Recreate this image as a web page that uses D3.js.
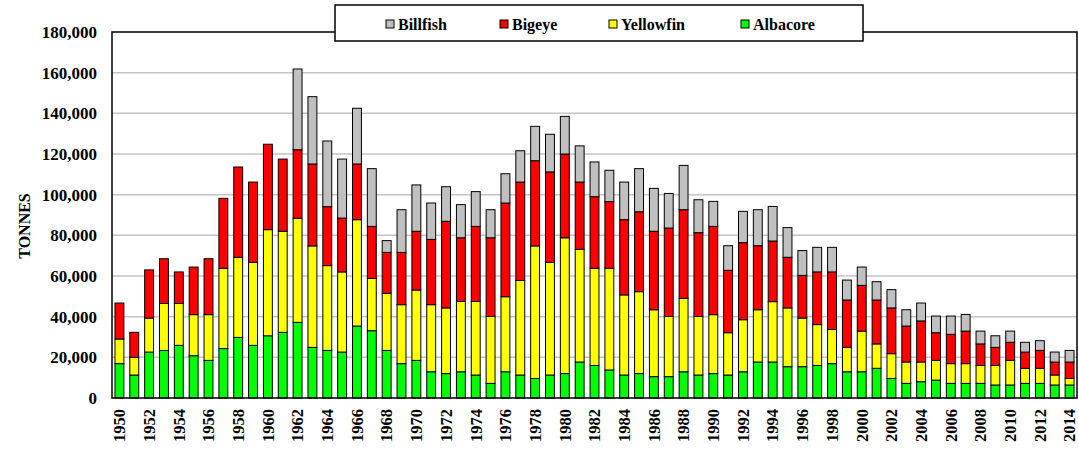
<!DOCTYPE html>
<html>
<head>
<meta charset="utf-8">
<script src="https://cdn.jsdelivr.net/npm/d3@7"></script>
<style>
  body { margin: 0; background: #fff; }
  svg text { font-family: "Liberation Serif", "Times New Roman", serif; font-weight: bold; }
</style>
</head>
<body>
<div class="chart"></div>
<script>
// catches in thousand tonnes
var years = d3.range(1950, 2015);
var albacore = [16.9,11.3,22.6,23.4,25.9,20.8,18.5,24.3,29.8,25.9,30.6,32.3,37.2,24.9,23.4,22.6,35.4,33.1,23.4,16.9,
  18.5,12.9,12.0,12.9,11.3,7.2,12.9,11.3,9.6,11.3,12.0,17.7,16.0,13.8,11.3,12.0,10.5,10.5,12.9,11.3,
  12.0,11.3,12.9,17.7,17.7,15.4,15.4,16.0,16.9,12.9,12.9,14.6,9.6,7.2,8.0,8.8,7.2,7.2,7.2,6.4,
  6.4,7.2,7.2,6.4,6.4];
var yellowfin = [12.1,8.7,16.7,23.1,20.6,20.2,22.5,39.5,39.4,40.8,52.2,49.7,51.2,49.9,41.7,39.4,52.3,25.7,28.1,29.0,
  34.6,33.0,32.3,34.6,36.2,32.9,36.9,46.5,65.2,55.4,66.8,55.4,47.8,50.0,39.4,40.3,32.9,29.6,36.1,28.8,
  29.0,20.8,25.6,25.7,29.7,28.9,23.9,20.1,16.8,12.0,20.0,12.0,12.2,10.5,9.7,9.7,9.7,9.7,8.8,9.6,
  12.1,7.4,7.4,4.9,3.2];
var bigeye = [17.7,12.3,23.7,22.0,15.5,23.4,27.5,34.4,44.4,39.5,42.0,35.5,33.7,40.3,29.0,26.5,27.4,25.6,20.1,25.7,
  28.9,32.1,42.6,31.3,36.9,38.7,46.1,48.4,41.9,44.5,41.2,33.1,35.2,32.8,37.0,39.3,38.6,43.5,43.6,41.2,
  43.4,30.7,37.9,31.5,29.8,24.9,21.0,25.9,28.3,23.3,22.5,21.6,22.5,17.7,20.2,13.6,14.4,16.0,10.6,8.9,
  8.9,8.0,8.8,6.4,8.1];
var billfish = [0,0,0,0,0,0,0,0,0,0,0,0,39.7,33.1,32.3,29.0,27.4,28.4,5.8,21.0,
  22.8,17.9,17.0,16.3,17.1,13.8,14.4,15.4,16.9,18.5,18.5,17.8,17.1,15.4,18.5,21.2,21.1,17.0,21.8,16.2,
  12.3,12.1,15.4,17.7,17.0,14.6,12.2,12.1,12.1,9.8,9.0,9.0,9.0,8.0,8.8,8.2,9.0,8.2,6.3,5.7,
  5.5,4.8,4.8,4.9,5.7];
var seriesNames = ["Albacore", "Yellowfin", "Bigeye", "Billfish"];
var seriesColors = ["#00ff00", "#ffff00", "#ff0000", "#c0c0c0"];
var legendOrder = ["Billfish", "Bigeye", "Yellowfin", "Albacore"];
var yTicks = d3.range(0, 180001, 20000);

var width = 1079, height = 450;
var plotLeft = 112, plotRight = 1077, plotTop = 32, plotBottom = 398;

var rows = years.map(function (yr, i) {
  return { year: yr, Albacore: albacore[i] * 1000, Yellowfin: yellowfin[i] * 1000,
           Bigeye: bigeye[i] * 1000, Billfish: billfish[i] * 1000 };
});

var x = d3.scaleBand().domain(years).range([plotLeft, plotRight]).paddingInner(0.4).paddingOuter(0.2);
var y = d3.scaleLinear().domain([0, 180000]).range([plotBottom, plotTop]);
var color = d3.scaleOrdinal().domain(seriesNames).range(seriesColors);

var svg = d3.select(".chart").append("svg")
  .attr("width", width).attr("height", height);

// gridlines
svg.append("g").selectAll("line")
  .data(yTicks.filter(function (d) { return d > 0 && d < 180000; }))
  .enter().append("line")
  .attr("x1", plotLeft).attr("x2", plotRight)
  .attr("y1", function (d) { return y(d); }).attr("y2", function (d) { return y(d); })
  .attr("stroke", "#c4c4c4").attr("stroke-width", 1.5);

// bars
var stack = d3.stack().keys(seriesNames)(rows);
svg.append("g").selectAll("g")
  .data(stack).enter().append("g")
  .attr("fill", function (d) { return color(d.key); })
  .selectAll("rect")
  .data(function (d) { return d.filter(function (p) { return p[1] - p[0] > 0; }); })
  .enter().append("rect")
  .attr("x", function (d) { return x(d.data.year); })
  .attr("width", x.bandwidth())
  .attr("y", function (d) { return y(d[1]); })
  .attr("height", function (d) { return y(d[0]) - y(d[1]); })
  .attr("stroke", "#000").attr("stroke-width", 1);

// frame
svg.append("rect")
  .attr("x", plotLeft).attr("y", plotTop).attr("width", plotRight - plotLeft).attr("height", plotBottom - plotTop)
  .attr("fill", "none").attr("stroke", "#000").attr("stroke-width", 1.5);

// y axis
var yAxis = d3.axisLeft(y).tickValues(yTicks).tickSize(0).tickPadding(15)
  .tickFormat(d3.format(","));
var yg = svg.append("g").attr("transform", "translate(" + plotLeft + ",0)").call(yAxis);
yg.select(".domain").remove();
yg.selectAll("text").attr("font-size", 17).attr("fill", "#000")
  .style("font-family", "'Liberation Serif', serif").style("font-weight", "bold");

svg.append("text")
  .attr("transform", "translate(24,226) rotate(-90)")
  .attr("text-anchor", "middle").attr("dy", "0.35em")
  .attr("font-size", 16).text("TONNES");

// x axis
var xAxis = d3.axisBottom(x).tickValues(years.filter(function (d) { return d % 2 === 0; }))
  .tickSize(0).tickPadding(0);
var xg = svg.append("g").attr("transform", "translate(0," + plotBottom + ")").call(xAxis);
xg.select(".domain").remove();
xg.selectAll("text")
  .attr("font-size", 16.5).attr("fill", "#000")
  .style("font-family", "'Liberation Serif', serif").style("font-weight", "bold")
  .attr("text-anchor", "end").attr("dy", "0.35em")
  .attr("transform", "translate(0,11) rotate(-90)")
  .attr("y", 0).attr("x", 0);

// legend
var legendBox = svg.append("g");
legendBox.append("rect")
  .attr("x", 335).attr("y", 5).attr("width", 528).attr("height", 36)
  .attr("fill", "#fff").attr("stroke", "#000").attr("stroke-width", 1.5);
var legendX = [386, 500, 609, 741];
var items = legendBox.selectAll("g.item").data(legendOrder).enter().append("g")
  .attr("transform", function (d, i) { return "translate(" + legendX[i] + ",24)"; });
items.append("rect")
  .attr("x", 0).attr("y", -4).attr("width", 8).attr("height", 8)
  .attr("fill", function (d) { return color(d); })
  .attr("stroke", "#000").attr("stroke-width", 1);
items.append("text")
  .attr("x", 12).attr("y", 0).attr("dy", "0.35em")
  .attr("font-size", 16).text(function (d) { return d; });
</script>
</body>
</html>
